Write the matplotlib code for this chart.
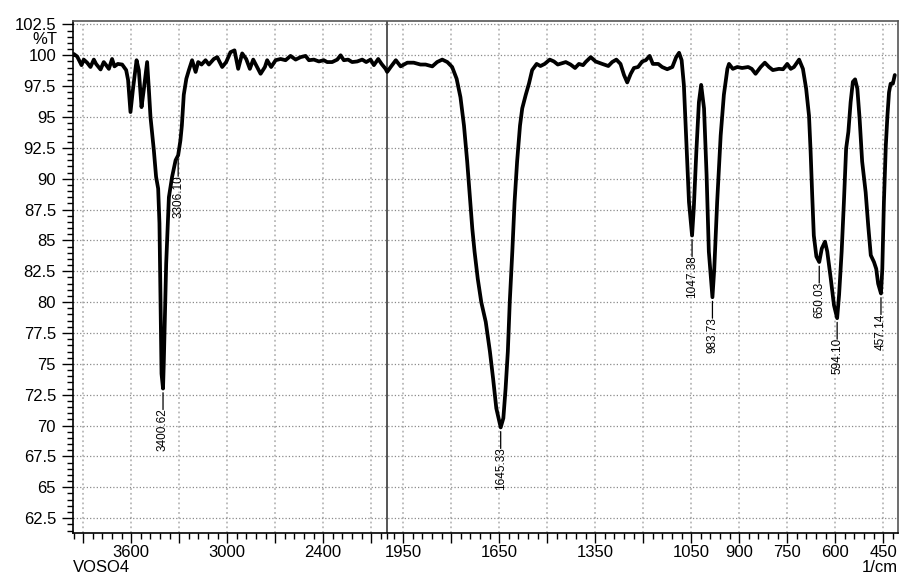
import numpy as np
import matplotlib
matplotlib.use("Agg")
import matplotlib.pyplot as plt

plt.rcParams['font.family'] = ['Liberation Sans', 'DejaVu Sans']

wavenumber = [3965, 3958, 3937, 3910, 3896, 3875, 3854, 3833, 3819, 3791, 3771, 3756, 3739, 3719, 3704,
              3683, 3656, 3631, 3619, 3604, 3589, 3566, 3552, 3535, 3521, 3500, 3489, 3479, 3458, 3444,
              3431, 3423, 3416, 3410, 3400.62, 3396, 3381, 3364, 3344, 3322, 3306.10, 3292, 3283, 3271,
              3255, 3239, 3219, 3197, 3181, 3160, 3135, 3114, 3083, 3062, 3031, 3006, 2979, 2954, 2931,
              2906, 2881, 2858, 2837, 2819, 2791, 2764, 2750, 2725, 2697, 2666, 2635, 2604, 2572, 2541,
              2510, 2489, 2458, 2427, 2396, 2375, 2344, 2312, 2291, 2271, 2244, 2219, 2187, 2156, 2131,
              2104, 2083, 2056, 2035, 2010, 2000, 1989, 1973, 1958, 1937, 1917, 1896, 1880, 1859, 1844,
              1828, 1812, 1797, 1783, 1771, 1760, 1750, 1742, 1734, 1727, 1717, 1706, 1692, 1679, 1669,
              1659, 1645.33, 1637, 1630, 1623, 1617, 1609, 1602, 1594, 1585, 1578, 1567, 1557, 1547, 1533,
              1521, 1508, 1492, 1479, 1467, 1442, 1427, 1413, 1401, 1388, 1380, 1364, 1349, 1328, 1309,
              1297, 1284, 1271, 1260, 1250, 1239, 1229, 1216, 1203, 1192, 1180, 1170, 1153, 1141, 1125,
              1109, 1097, 1088, 1080, 1073, 1066, 1057, 1047.38, 1042, 1034, 1026, 1019, 1010, 1002, 995,
              983.73, 978, 969, 958, 948, 937, 932, 920, 906, 891, 872, 861, 849, 833, 820,
              807, 795, 776, 763, 750, 739, 729, 713, 701, 691, 682, 677, 672, 667, 659,
              650.03, 642, 632, 625, 614, 604, 594.10, 588, 580, 573, 566, 559, 552, 545, 538,
              531, 524, 516, 505, 497, 489, 479, 472, 466, 457.14, 453, 448, 442, 437, 432,
              427, 420, 414]
transmittance = [100.0, 100.1, 99.9, 99.2, 99.65, 99.4, 99.05, 99.65, 99.3, 98.85, 99.45, 99.2, 98.9, 99.7, 99.1,
                 99.3, 99.25, 98.8, 98.0, 95.4, 97.2, 99.6, 98.8, 95.8, 97.2, 99.45, 97.2, 95.0, 92.3, 90.15,
                 89.2, 86.4, 79.6, 74.2, 73.0, 75.0, 83.1, 88.5, 90.15, 91.5, 91.9, 93.1, 94.3, 96.8,
                 98.1, 98.8, 99.6, 98.65, 99.45, 99.25, 99.6, 99.25, 99.7, 99.85, 99.05, 99.45, 100.25, 100.4, 98.9,
                 100.15, 99.7, 98.9, 99.65, 99.2, 98.5, 99.05, 99.6, 99.05, 99.6, 99.7, 99.6, 99.95, 99.65, 99.85,
                 99.95, 99.6, 99.65, 99.5, 99.6, 99.45, 99.45, 99.65, 100.0, 99.6, 99.65, 99.45, 99.5, 99.65, 99.45,
                 99.65, 99.2, 99.7, 99.3, 98.9, 98.65, 99.05, 99.6, 99.1, 99.4, 99.4, 99.25, 99.25, 99.1, 99.45,
                 99.65, 99.45, 99.05, 98.1, 96.6, 94.3, 91.4, 88.65, 85.95, 84.1, 81.9, 80.0, 78.4, 76.0, 73.8,
                 71.4, 69.85, 70.6, 73.0, 76.0, 80.0, 84.1, 88.1, 91.4, 94.3, 95.7, 96.8, 97.7, 98.8, 99.3,
                 99.13, 99.3, 99.65, 99.5, 99.25, 99.45, 99.25, 98.97, 99.3, 99.2, 99.45, 99.85, 99.5, 99.3, 99.13,
                 99.45, 99.65, 99.3, 98.4, 97.8, 98.5, 98.97, 99.05, 99.5, 99.6, 99.95, 99.3, 99.3, 99.05, 98.87,
                 99.05, 99.85, 100.2, 99.6, 97.6, 93.5, 88.1, 85.4, 87.6, 92.2, 96.2, 97.6, 95.7, 90.3, 84.1,
                 80.4, 82.7, 88.1, 93.5, 96.8, 98.9, 99.3, 98.9, 99.05, 98.97, 99.05, 98.9, 98.5, 99.05, 99.4,
                 99.05, 98.8, 98.9, 98.87, 99.3, 98.9, 99.05, 99.65, 98.9, 97.3, 95.1, 92.2, 88.65, 85.4, 83.7,
                 83.25, 84.35, 84.9, 84.1, 81.9, 79.75, 78.7, 80.6, 84.1, 88.1, 92.45, 93.8, 96.2, 97.85, 98.05,
                 97.3, 94.9, 91.4, 88.9, 86.2, 83.8, 83.25, 82.7, 81.5, 80.7, 82.7, 88.1, 92.7, 95.1, 97.0,
                 97.7, 97.7, 98.4]

peak_labels = ["3400.62", "3306.10", "1645.33", "1047.38", "983.73", "650.03", "594.10", "457.14"]
peak_wn = [float(p) for p in peak_labels]

x_major = [3900, 3600, 3300, 3000, 2700, 2400, 2100, 1950, 1800, 1650, 1500, 1350, 1200, 1050, 900, 750, 600, 450]
x_labeled = [3600, 3000, 2400, 1950, 1650, 1350, 1050, 900, 750, 600, 450]
y_major = [62.5, 65, 67.5, 70, 72.5, 75, 77.5, 80, 82.5, 85, 87.5, 90, 92.5, 95, 97.5, 100, 102.5]

BREAK = 2000.0
K = 0.5


def fwd(x):
    x = np.asarray(x, dtype=float)
    return np.where(x > BREAK, BREAK + (x - BREAK) * K, x)


def inv(u):
    u = np.asarray(u, dtype=float)
    return np.where(u > BREAK, BREAK + (u - BREAK) / K, u)


fig = plt.figure(figsize=(9.01, 5.77), dpi=100)
ax = fig.add_axes([0.0807, 0.0763, 0.9156, 0.8878])
ax.set_xscale('function', functions=(fwd, inv))

ax.plot(wavenumber, transmittance, color='black', lw=2.7, solid_joinstyle='round',
        solid_capstyle='round', zorder=3)

ax.set_xlim(3965, 405)
ax.set_ylim(61.3, 102.8)

ax.set_xticks(x_major, [str(v) if v in x_labeled else '' for v in x_major])
minor_x = list(range(3960, 2039, -60)) + [2000] + list(range(1980, 419, -30))
minor_x = [m for m in minor_x if m not in x_major]
ax.set_xticks(minor_x, minor=True)
ax.set_yticks(y_major, [f"{v:g}" for v in y_major])
ax.set_yticks(np.arange(61.5, 102.8, 0.5), minor=True)

ax.tick_params(axis='x', which='major', length=7, width=1, labelsize=12, pad=1.5, direction='out')
ax.tick_params(axis='x', which='minor', length=4, width=1, direction='out')
ax.tick_params(axis='y', which='major', length=8, width=1, labelsize=12, pad=4, direction='out')
ax.tick_params(axis='y', which='minor', length=4, width=1, direction='out')

ax.xaxis.grid(True, which='major', color='#b8b8b8', ls=':', lw=1.3)
ax.yaxis.grid(True, which='major', color='#8a8a8a', ls=':', lw=0.9)
ax.set_axisbelow(True)

for s in ['left', 'bottom']:
    ax.spines[s].set_linewidth(1.2)
    ax.spines[s].set_color('black')
for s in ['top', 'right']:
    ax.spines[s].set_linewidth(1.2)
    ax.spines[s].set_color('#555555')

ax.axvline(BREAK, color='#555555', lw=1.4, zorder=2)

# %T unit label on the y axis
ax.annotate('%T', xy=(0, 101.25), xycoords=('axes fraction', 'data'),
            xytext=(-15.5, 0), textcoords='offset pixels', ha='right', va='center', fontsize=12)

# sample name and x unit
fig.text(0.0807, 0.003, 'VOSO4', ha='left', va='bottom', fontsize=12)
fig.text(0.9963, 0.003, '1/cm', ha='right', va='bottom', fontsize=12)

# peak labels: a short leader line below each peak, then the rotated value
wn_arr = np.array(wavenumber)[::-1]
t_arr = np.array(transmittance)[::-1]
for lab, p in zip(peak_labels, peak_wn):
    tv = float(np.interp(p, wn_arr, t_arr))
    ax.annotate('', xy=(p, tv), xytext=(0, -21), textcoords='offset pixels',
                arrowprops=dict(arrowstyle='-', color='black', lw=0.9, shrinkA=0, shrinkB=3),
                zorder=4)
    ax.annotate(lab, xy=(p, tv), xytext=(0, -20), textcoords='offset pixels',
                rotation=90, ha='center', va='top', fontsize=8.5, zorder=4)

fig.savefig('out.png', dpi=100)
